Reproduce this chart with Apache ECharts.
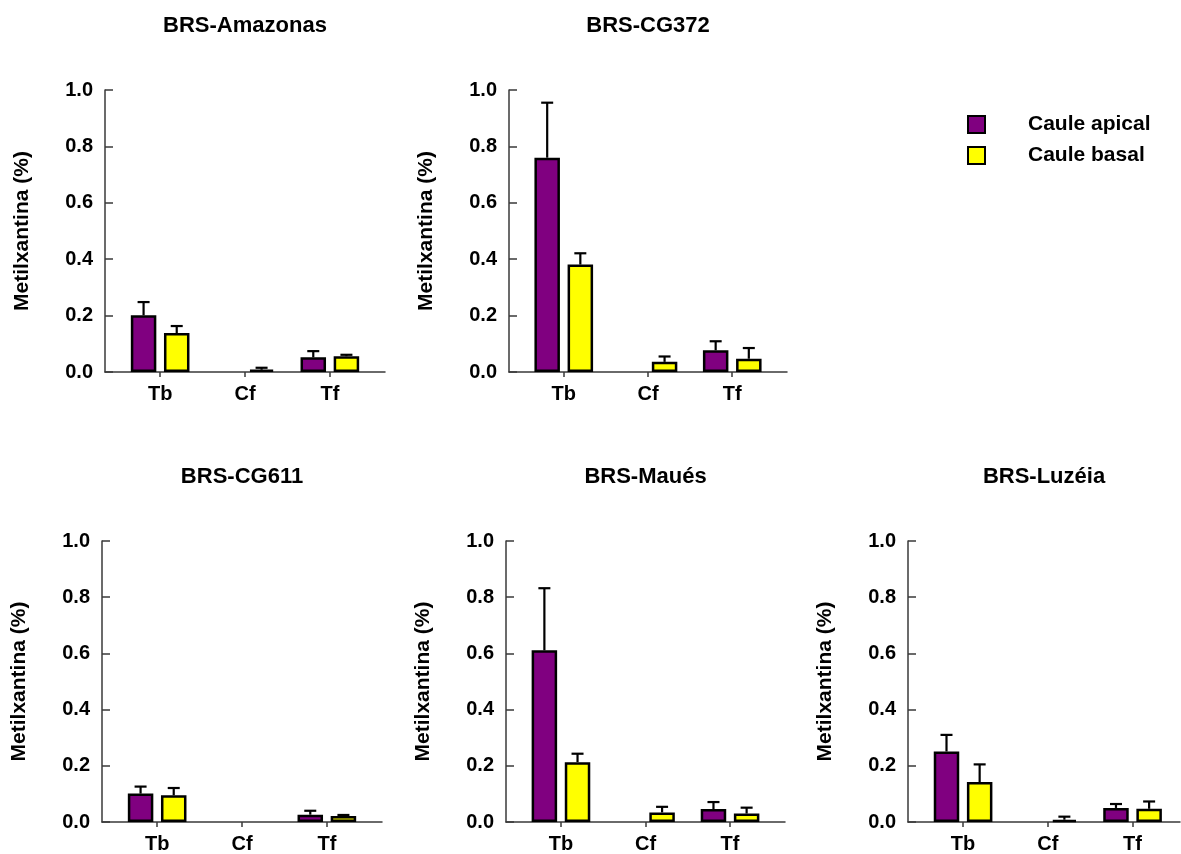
<!DOCTYPE html>
<html>
<head>
<meta charset="utf-8">
<script src="https://cdn.jsdelivr.net/npm/echarts@6/dist/echarts.min.js"></script>
<style>
html,body{margin:0;padding:0;background:#fff;}
#chart{width:1181px;height:854px;}
</style>
</head>
<body>
<div id="chart"></div>
<script>
// ---- data ----
const categories = ['Tb', 'Cf', 'Tf'];
const cultivars = ['BRS-Amazonas', 'BRS-CG372', 'BRS-CG611', 'BRS-Maués', 'BRS-Luzéia'];
const seriesNames = ['Caule apical', 'Caule basal'];
const yTicks = [0, 0.2, 0.4, 0.6, 0.8, 1.0];

const amazonasApical   = [0.201, null, 0.052];
const amazonasApicalSE = [0.047, null, 0.022];
const amazonasBasal    = [0.138, 0.008, 0.056];
const amazonasBasalSE  = [0.025, 0.007, 0.005];

const cg372Apical   = [0.760, null, 0.077];
const cg372ApicalSE = [0.195, null, 0.032];
const cg372Basal    = [0.381, 0.036, 0.047];
const cg372BasalSE  = [0.040, 0.019, 0.038];

const cg611Apical   = [0.101, null, 0.026];
const cg611ApicalSE = [0.025, null, 0.014];
const cg611Basal    = [0.095, null, 0.021];
const cg611BasalSE  = [0.026, null, 0.004];

const mauesApical   = [0.611, null, 0.046];
const mauesApicalSE = [0.221, null, 0.025];
const mauesBasal    = [0.213, 0.034, 0.030];
const mauesBasalSE  = [0.030, 0.020, 0.021];

const luzeiaApical   = [0.251, null, 0.050];
const luzeiaApicalSE = [0.059, null, 0.014];
const luzeiaBasal    = [0.142, 0.008, 0.047];
const luzeiaBasalSE  = [0.063, 0.011, 0.026];

const apicalMeans = [amazonasApical, cg372Apical, cg611Apical, mauesApical, luzeiaApical];
const apicalSEs   = [amazonasApicalSE, cg372ApicalSE, cg611ApicalSE, mauesApicalSE, luzeiaApicalSE];
const basalMeans  = [amazonasBasal, cg372Basal, cg611Basal, mauesBasal, luzeiaBasal];
const basalSEs    = [amazonasBasalSE, cg372BasalSE, cg611BasalSE, mauesBasalSE, luzeiaBasalSE];

// ---- layout ----
const FONT = "'Liberation Sans', Arial, sans-serif";
const grids = [
  {left: 105, top: 90,  width: 280, height: 282, xMax: 2.65},
  {left: 509, top: 90,  width: 278, height: 282, xMax: 2.65},
  {left: 102, top: 541, width: 280, height: 281, xMax: 2.65},
  {left: 506, top: 541, width: 279, height: 281, xMax: 2.65},
  {left: 908, top: 541, width: 272, height: 281, xMax: 2.56}
];
const colors = ['#800080', '#FFFF00'];
const BAR_W = 25.5, BAR_GAP = 0.3;
const OFFSET = (BAR_W * (1 + BAR_GAP)) / 2;
const AXIS_COLOR = '#3a3a3a';

function errRender(offset) {
  return function (params, api) {
    const x = api.value(0), m = api.value(1), e = api.value(2);
    const p0 = api.coord([x, m]);
    const p1 = api.coord([x, m + e]);
    const cx = p0[0] + offset;
    return {
      type: 'group',
      children: [
        {type: 'line', shape: {x1: cx, y1: p0[1], x2: cx, y2: p1[1]}, style: {stroke: '#000', lineWidth: 2.2}},
        {type: 'line', shape: {x1: cx - 6, y1: p1[1], x2: cx + 6, y2: p1[1]}, style: {stroke: '#000', lineWidth: 2.2}}
      ]
    };
  };
}

const option = {
  backgroundColor: '#fff',
  animation: false,
  title: [],
  grid: [],
  xAxis: [],
  yAxis: [],
  series: [],
  legend: {
    orient: 'vertical',
    left: 962, top: 109,
    itemWidth: 17, itemHeight: 17, itemGap: 10,
    icon: 'rect',
    data: seriesNames,
    itemStyle: {borderColor: '#000', borderWidth: 2},
    textStyle: {fontFamily: FONT, fontSize: 21, fontWeight: 'bold', color: '#000', lineHeight: 17, padding: [0, 0, 0, 38]}
  }
};

grids.forEach((g, i) => {
  option.title.push({
    text: cultivars[i],
    left: g.left + g.width / 2,
    top: g.top - 75,
    textAlign: 'center',
    padding: 0,
    textStyle: {fontFamily: FONT, fontSize: 22, fontWeight: 'bold', color: '#000'}
  });
  option.grid.push({left: g.left, top: g.top, width: g.width, height: g.height, containLabel: false});
  option.xAxis.push({
    type: 'value', gridIndex: i, min: -0.65, max: g.xMax,
    splitLine: {show: false},
    axisLine: {show: true, onZero: false, lineStyle: {color: AXIS_COLOR, width: 1.5}},
    axisTick: {show: true, customValues: [0, 1, 2], length: 5, lineStyle: {color: AXIS_COLOR, width: 1.5}},
    axisLabel: {
      customValues: [0, 1, 2], margin: 12,
      formatter: v => categories[Math.round(v)],
      fontFamily: FONT, fontSize: 20, fontWeight: 'bold', color: '#000'
    }
  });
  option.yAxis.push({
    type: 'value', gridIndex: i, min: 0, max: 1, interval: 0.2,
    name: 'Metilxantina (%)', nameLocation: 'middle', nameGap: 72, nameRotate: 90,
    nameTextStyle: {fontFamily: FONT, fontSize: 21, fontWeight: 'bold', color: '#000'},
    splitLine: {show: false},
    axisLine: {show: true, onZero: false, lineStyle: {color: AXIS_COLOR, width: 1.5}},
    axisTick: {show: true, inside: true, length: 8, lineStyle: {color: AXIS_COLOR, width: 1.5}},
    axisLabel: {
      margin: 12, formatter: v => v.toFixed(1),
      fontFamily: FONT, fontSize: 20, fontWeight: 'bold', color: '#000'
    }
  });
  const groups = [[apicalMeans[i], apicalSEs[i]], [basalMeans[i], basalSEs[i]]];
  groups.forEach(([means, ses], k) => {
    const barData = [], errData = [];
    means.forEach((v, j) => {
      if (v === null) return;
      barData.push([j, v]);
      if (ses[j] !== null) errData.push([j, v, ses[j]]);
    });
    option.series.push({
      type: 'bar', name: seriesNames[k], xAxisIndex: i, yAxisIndex: i,
      barWidth: BAR_W, barGap: (BAR_GAP * 100) + '%',
      itemStyle: {color: colors[k], borderColor: '#000', borderWidth: 2.5},
      data: barData, z: 2
    });
    option.series.push({
      type: 'custom', name: seriesNames[k] + ' SE', xAxisIndex: i, yAxisIndex: i,
      renderItem: errRender(k === 0 ? -OFFSET : OFFSET),
      encode: {x: 0, y: 1}, data: errData, z: 3, silent: true
    });
  });
});

const chart = echarts.init(document.getElementById('chart'), null, {renderer: 'canvas'});
chart.setOption(option);
</script>
</body>
</html>
